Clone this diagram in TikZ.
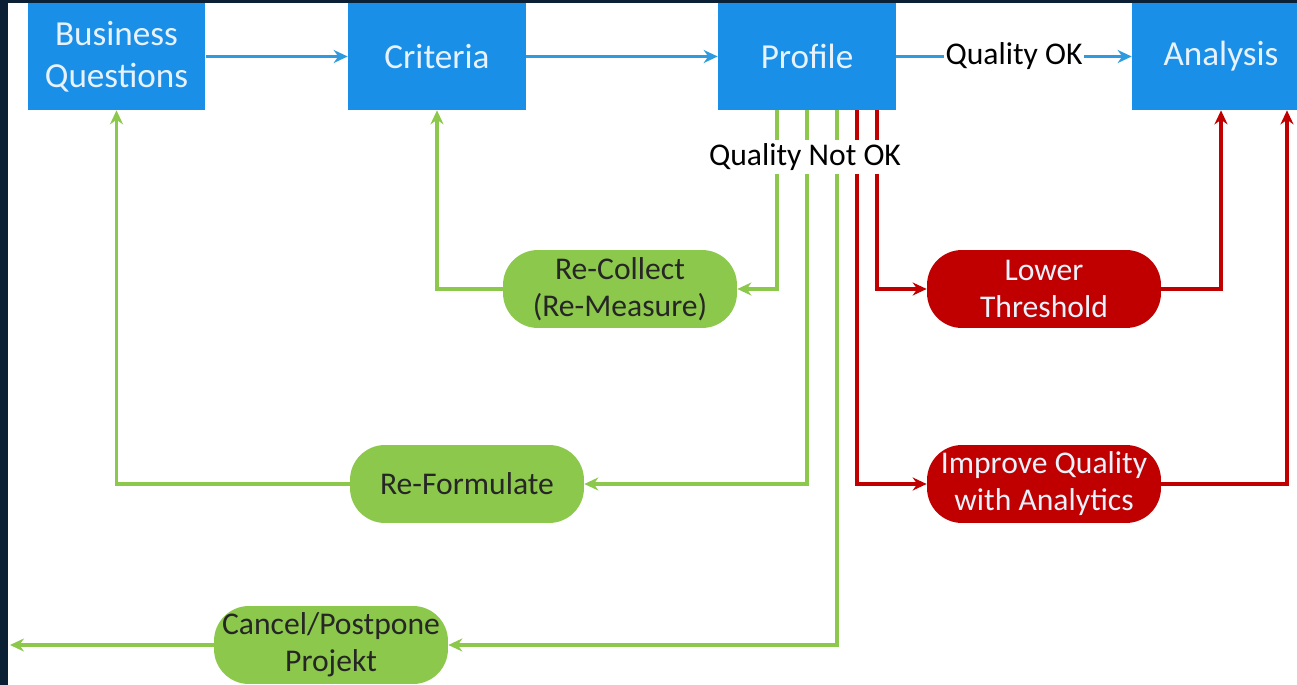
\documentclass[tikz,border=0pt]{standalone}
\usepackage{fontspec}
\setmainfont{Carlito}
\usetikzlibrary{arrows.meta}
\definecolor{navy}{HTML}{0B2035}
\definecolor{boxblue}{HTML}{1A8FE8}
\definecolor{lineblue}{HTML}{2E9BE0}
\definecolor{leaf}{HTML}{8CC84B}
\definecolor{darkred}{HTML}{C00000}
\definecolor{paletext}{HTML}{E8F2FC}
\tikzset{>={Stealth[length=2.8mm,width=2.6mm]},
  stage/.style={rectangle,fill=boxblue,text=paletext,minimum width=3.56cm,minimum height=2.14cm,align=center,font=\fontsize{20}{24}\selectfont},
  fix/.style={rectangle,rounded corners=0.7cm,fill=leaf,text=black!85,minimum width=4.68cm,minimum height=1.56cm,align=center},
  tune/.style={fix,fill=darkred,text=paletext},
  flow/.style={->,lineblue,line width=2pt},
  retry/.style={->,leaf,line width=2pt},
  rescue/.style={->,darkred,line width=2pt}}

\begin{document}
\begin{tikzpicture}[x=0.02cm,y=-0.02cm,font=\fontsize{18}{21}\selectfont]
\useasboundingbox (0,0) rectangle (1297,685);
\fill[navy] (0,0) rectangle (1297,685);
\fill[white] (8,3) rectangle (1297,685);
\begin{scope}
\clip (8,3) rectangle (1297,685);
% main line
\node[stage] (bq) at (116.5,56.5) {Business\\Questions};
\node[stage] (crit) at (437,56.5) {Criteria};
\node[stage] (prof) at (807,56.5) {Profile};
\node[stage] (ana) at (1221,56.5) {Analysis};
% fallbacks
\node[fix] (recol) at (620,289) {Re-Collect\\(Re-Measure)};
\node[fix] (reform) at (467,484) {Re-Formulate};
\node[fix] (cancel) at (331,645) {Cancel/Postpone\\Projekt};
\node[tune] (lower) at (1044,289) {Lower\\Threshold};
\node[tune] (improve) at (1044,484) {Improve Quality\\with Analytics};
\coordinate (stop) at (10,645);

\draw[flow] (bq) -- (crit);
\draw[flow] (crit) -- (prof);
\draw[flow] (prof) -- node[fill=white,inner sep=1pt,text=black] (ok) {Quality OK} (ana);

\draw[retry] ([xshift=-0.6cm]prof.south) |- (recol.east);
\draw[retry] (recol.west) -| (crit.south);
\draw[retry] (prof.south) |- (reform.east);
\draw[retry] (reform.west) -| (bq.south);
\draw[retry] ([xshift=0.6cm]prof.south) |- (cancel.east);
\draw[retry] (cancel.west) -- (stop);
\draw[rescue] ([xshift=1.4cm]prof.south) |- (lower.west);
\draw[rescue] ([xshift=1cm]prof.south) |- (improve.west);
\draw[rescue] (lower.east) -| (ana.south);
\draw[rescue] (improve.east) -| ([xshift=1.32cm]ana.south);
\node[fill=white,inner sep=2pt] (nok) at (805,157) {Quality Not OK};
\end{scope}
\end{tikzpicture}
\end{document}
